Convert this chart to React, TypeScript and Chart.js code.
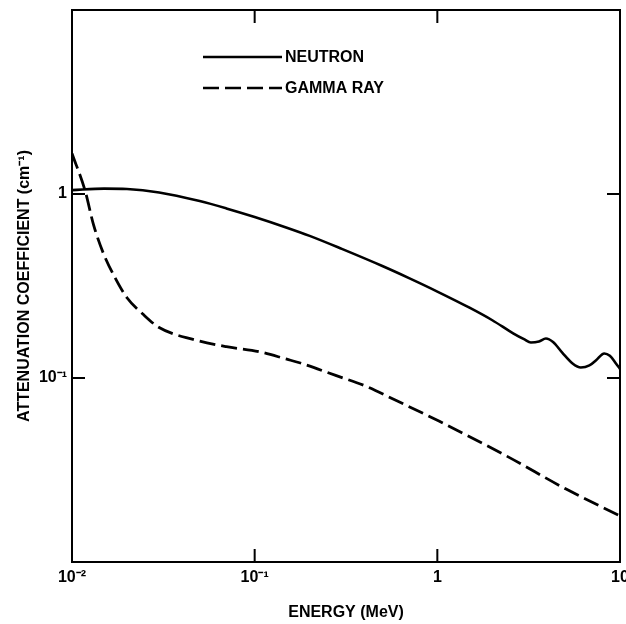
import React, { useEffect, useRef } from "react";
import { Chart, registerables } from "chart.js";

Chart.register(...registerables);

// Neutron attenuation coefficient (cm^-1) vs energy (MeV)
const neutronEnergy = [0.01, 0.015, 0.02, 0.03, 0.05, 0.07, 0.1, 0.15, 0.2, 0.3, 0.5, 0.7, 1.0, 1.5, 2.0, 2.6, 3.0, 3.25, 3.6, 3.93, 4.3, 4.84, 5.5, 6.1, 6.8, 7.4, 8.2, 8.8, 9.5, 10];
const neutronCoef = [1.05, 1.07, 1.065, 1.02, 0.915, 0.835, 0.75, 0.656, 0.592, 0.503, 0.406, 0.349, 0.295, 0.241, 0.206, 0.175, 0.162, 0.156, 0.158, 0.164, 0.157, 0.137, 0.12, 0.114, 0.117, 0.125, 0.136, 0.132, 0.12, 0.112];

// Gamma ray attenuation coefficient (cm^-1) vs energy (MeV)
const gammaEnergy = [0.01, 0.0118, 0.0131, 0.0148, 0.0172, 0.02, 0.0245, 0.03, 0.046, 0.07, 0.106, 0.15, 0.176, 0.28, 0.405, 0.6, 1.02, 2.39, 5.07, 10];
const gammaCoef = [1.66, 1.04, 0.684, 0.48, 0.351, 0.273, 0.222, 0.188, 0.162, 0.148, 0.139, 0.1265, 0.121, 0.103, 0.0904, 0.0752, 0.0583, 0.0377, 0.0249, 0.0178];

const seriesNames = ["NEUTRON", "GAMMA RAY"];

const xTickValues = [0.01, 0.1, 1, 10];
const xTickLabels = ["10\u207B\u00B2", "10\u207B\u00B9", "1", "10"];
const yTickValues = [0.1, 1];
const yTickLabels = ["10\u207B\u00B9", "1"];

const xTitle = "ENERGY (MeV)";
const yTitle = "ATTENUATION COEFFICIENT (cm\u207B\u00B9)";

const FONT = "'Liberation Sans', Arial, Helvetica, sans-serif";
const GAMMA_DASH = [16, 6];

const frameAndLegend = {
  id: "frameAndLegend",
  afterDraw(chart: any) {
    const { ctx, chartArea } = chart;
    const { left, right, top, bottom } = chartArea;
    const xs = chart.scales.x;
    const ys = chart.scales.y;
    ctx.save();
    ctx.strokeStyle = "#000";
    ctx.lineWidth = 2;
    ctx.setLineDash([]);
    ctx.strokeRect(left, top, right - left, bottom - top);
    const tl = 13;
    ctx.beginPath();
    [0.1, 1].forEach((v) => {
      const px = xs.getPixelForValue(v);
      ctx.moveTo(px, bottom);
      ctx.lineTo(px, bottom - tl);
      ctx.moveTo(px, top);
      ctx.lineTo(px, top + tl);
    });
    yTickValues.forEach((v) => {
      const py = ys.getPixelForValue(v);
      ctx.moveTo(left, py);
      ctx.lineTo(left + tl, py);
      ctx.moveTo(right, py);
      ctx.lineTo(right - tl, py);
    });
    ctx.stroke();

    // legend
    const lx0 = left + 131;
    const lx1 = left + 210;
    const rows = [top + 47, top + 78];
    ctx.lineWidth = 2.5;
    rows.forEach((ry, i) => {
      ctx.setLineDash(i === 0 ? [] : GAMMA_DASH);
      ctx.beginPath();
      ctx.moveTo(lx0, ry);
      ctx.lineTo(lx1, ry);
      ctx.stroke();
      ctx.setLineDash([]);
      ctx.fillStyle = "#000";
      ctx.font = `bold 16px ${FONT}`;
      ctx.textBaseline = "middle";
      ctx.textAlign = "left";
      ctx.fillText(seriesNames[i], lx1 + 3, ry + 1);
    });
    ctx.restore();
  },
};

export default function App() {
  const canvasRef = useRef<HTMLCanvasElement | null>(null);

  useEffect(() => {
    const canvas = canvasRef.current;
    if (!canvas) return;
    Chart.defaults.font.family = FONT;
    Chart.defaults.color = "#000";

    const chart = new Chart(canvas, {
      type: "line",
      data: {
        datasets: [
          {
            label: seriesNames[0],
            data: neutronEnergy.map((e, i) => ({ x: e, y: neutronCoef[i] })),
            borderColor: "#000",
            borderWidth: 2.6,
            pointRadius: 0,
            fill: false,
            cubicInterpolationMode: "monotone",
          },
          {
            label: seriesNames[1],
            data: gammaEnergy.map((e, i) => ({ x: e, y: gammaCoef[i] })),
            borderColor: "#000",
            borderWidth: 2.8,
            borderDash: GAMMA_DASH,
            pointRadius: 0,
            fill: false,
            cubicInterpolationMode: "monotone",
          },
        ],
      },
      options: {
        responsive: false,
        animation: false,
        layout: { padding: { top: 10, right: 6, left: 0, bottom: 0 } },
        plugins: {
          legend: { display: false },
          tooltip: { enabled: false },
        },
        scales: {
          x: {
            type: "logarithmic",
            min: 0.01,
            max: 10,
            grid: { display: false, drawTicks: false },
            border: { display: false },
            afterBuildTicks: (scale: any) => {
              scale.ticks = xTickValues.map((v) => ({ value: v }));
            },
            afterFit: (scale: any) => {
              scale.height = 62;
              scale.paddingLeft = 0;
              scale.paddingRight = 0;
            },
            ticks: {
              autoSkip: false,
              maxRotation: 0,
              minRotation: 0,
              padding: 6,
              font: { size: 16, weight: "bold" },
              callback: (_v: any, i: number) => xTickLabels[i],
            },
            title: {
              display: true,
              text: xTitle,
              font: { size: 16, weight: "bold" },
              padding: { top: 0, bottom: 1.5 },
            },
          },
          y: {
            type: "logarithmic",
            min: 0.01,
            max: 10,
            grid: { display: false, drawTicks: false },
            border: { display: false },
            afterBuildTicks: (scale: any) => {
              scale.ticks = yTickValues.map((v) => ({ value: v }));
            },
            afterFit: (scale: any) => {
              scale.width = 72;
              scale.paddingTop = 0;
              scale.paddingBottom = 0;
            },
            ticks: {
              autoSkip: false,
              padding: 5,
              font: { size: 16, weight: "bold" },
              callback: (_v: any, i: number) => yTickLabels[i],
            },
            title: {
              display: true,
              text: yTitle,
              font: { size: 16, weight: "bold" },
              padding: { top: 15, bottom: 0 },
            },
          },
        },
      },
      plugins: [frameAndLegend],
    } as any);

    return () => chart.destroy();
  }, []);

  return (
    <div style={{ position: "absolute", left: 0, top: 0, width: 626, height: 624, background: "#fff" }}>
      <canvas ref={canvasRef} width={626} height={624} style={{ display: "block" }} />
    </div>
  );
}
